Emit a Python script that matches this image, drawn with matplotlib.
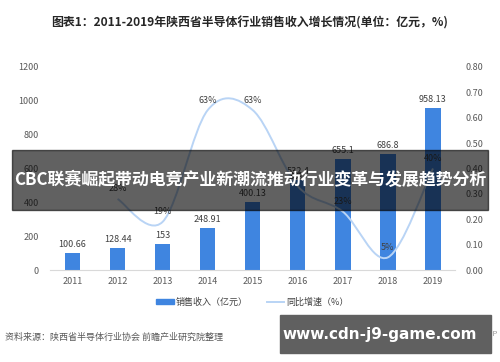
import numpy as np
import matplotlib.pyplot as plt
from matplotlib.path import Path
from matplotlib.patches import PathPatch, Rectangle
from matplotlib.lines import Line2D

plt.rcParams['font.family'] = ['Noto Sans CJK SC', 'DejaVu Sans']

years = ['2011', '2012', '2013', '2014', '2015', '2016', '2017', '2018', '2019']
revenue = [100.66, 128.44, 153, 248.91, 400.13, 532.4, 655.1, 686.8, 958.13]
revenue_labels = ['100.66', '128.44', '153', '248.91', '400.13', '532.4', '655.1', '686.8', '958.13']
growth_years = ['2012', '2013', '2014', '2015', '2016', '2017', '2018', '2019']
growth = [0.28, 0.19, 0.63, 0.63, 0.33, 0.23, 0.05, 0.40]
growth_labels = ['28%', '19%', '63%', '63%', '33%', '23%', '5%', '40%']

bar_color = '#3f85e0'
line_color = '#b9d4f5'
tick_color = '#595959'


def smooth_path(xs, ys):
    # excel-like smoothed line, catmull-rom segments as bezier curves
    pts = np.column_stack([xs, ys]).astype(float)
    ext = np.vstack([pts[0], pts, pts[-1]])
    verts = [pts[0]]
    codes = [Path.MOVETO]
    for i in range(len(pts) - 1):
        p0, p1, p2, p3 = ext[i], ext[i + 1], ext[i + 2], ext[i + 3]
        verts += [p1 + (p2 - p0) / 6, p2 - (p3 - p1) / 6, p2]
        codes += [Path.CURVE4] * 3
    return Path(verts, codes)


fig = plt.figure(figsize=(5, 3.62), dpi=100)
ax = fig.add_axes([0.1, 0.254, 0.811, 0.561])
ax2 = ax.twinx()

x = np.arange(len(years))
ax.bar(x, revenue, width=0.34, color=bar_color, zorder=2)
for xi, v, lab in zip(x, revenue, revenue_labels):
    ax.annotate(lab, (xi, v), xytext=(0, 3), textcoords='offset points',
                ha='center', va='bottom', fontsize=6.5, color='#404040')

gx = np.array([years.index(y) for y in growth_years])
ax2.add_patch(PathPatch(smooth_path(gx, growth), fill=False, edgecolor=line_color,
                        lw=1.4, zorder=3))
for xi, v, lab in zip(gx, growth, growth_labels):
    ax2.annotate(lab, (xi, v), xytext=(0, 4), textcoords='offset points',
                 ha='center', va='bottom', fontsize=6.5, color='#404040')

ax.set_xlim(-0.5, len(years) - 0.5)
ax.set_ylim(0, 1200)
ax.set_yticks(range(0, 1201, 200))
ax2.set_ylim(0, 0.8)
ax2.set_yticks(np.arange(0, 0.81, 0.1))
ax2.set_yticklabels(['%.2f' % t for t in np.arange(0, 0.81, 0.1)])
ax.set_xticks(x)
ax.set_xticklabels(years)

for a in (ax, ax2):
    for s in a.spines.values():
        s.set_visible(False)
    a.tick_params(length=0, labelsize=6.5, colors=tick_color)
ax.spines['bottom'].set_visible(True)
ax.spines['bottom'].set_color('#d9d9d9')
ax.tick_params(axis='y', pad=8)
ax2.tick_params(axis='y', pad=7)
ax.tick_params(axis='x', pad=5)

handles = [Rectangle((0, 0), 1, 1, color=bar_color),
           Line2D([], [], color=line_color, lw=1.4)]
fig.legend(handles, ['销售收入（亿元）', '同比增速（%）'], loc='center',
           bbox_to_anchor=(0.505, 0.166), ncol=2, frameon=False, fontsize=6.5,
           handlelength=1.9, handleheight=0.5, handletextpad=0.2, columnspacing=2.2,
           labelcolor='#404040')

fig.text(0.5, 0.937, '图表1：2011-2019年陕西省半导体行业销售收入增长情况(单位：亿元，%)',
         ha='center', va='center', fontsize=8.6, fontweight='bold', color='#262626')
fig.text(0.01, 0.069, '资料来源：陕西省半导体行业协会 前瞻产业研究院整理',
         ha='left', va='center', fontsize=6.5, color='#595959')
fig.text(0.997, 0.078, 'APP', ha='right', va='center', fontsize=5.5, color='#999999')

# overlay banners
fig.patches.append(Rectangle((0.024, 0.42), 0.952, 0.165, transform=fig.transFigure,
                             color='black', alpha=0.62, zorder=10))
fig.text(0.5, 0.503, 'CBC联赛崛起带动电竞产业新潮流推动行业变革与发展趋势分析',
         ha='center', va='center', fontsize=12.2, fontweight='bold', color='white', zorder=11)
fig.patches.append(Rectangle((0.56, 0.025), 0.422, 0.105, transform=fig.transFigure,
                             color='#606060', zorder=10))
fig.text(0.759, 0.077, 'www.cdn-j9-game.com', ha='center', va='center',
         fontsize=11, fontweight='bold', color='white', zorder=11, family='DejaVu Sans')

fig.savefig('out.png', dpi=100)
